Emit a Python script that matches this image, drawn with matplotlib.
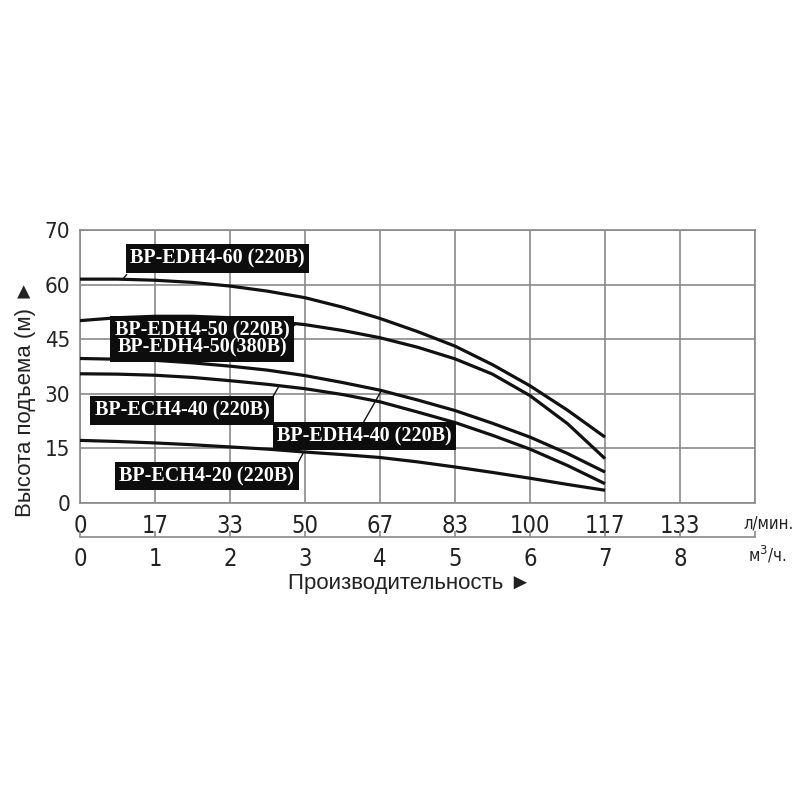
import matplotlib
matplotlib.use("Agg")
import matplotlib.pyplot as plt
from matplotlib import font_manager as fm

# ---- data (flow in m3/h, head in m) ----
flow = [0, 0.5, 1, 1.5, 2, 2.5, 3, 3.5, 4, 4.5, 5, 5.5, 6, 6.5, 7]
head_edh4_60 = [61.5, 61.5, 61.2, 60.6, 59.6, 58.2, 56.4, 53.8, 50.7, 47.1, 43.1, 38.0, 32.2, 25.5, 18.1]
head_edh4_50 = [50.1, 50.9, 51.3, 51.3, 50.9, 50.1, 49.0, 47.4, 45.4, 42.8, 39.6, 35.4, 29.5, 21.8, 12.2]
head_edh4_40 = [39.7, 39.5, 39.2, 38.5, 37.6, 36.5, 35.0, 33.1, 31.0, 28.3, 25.4, 21.9, 18.1, 13.6, 8.5]
head_ech4_40 = [35.5, 35.4, 35.1, 34.5, 33.6, 32.6, 31.4, 29.8, 27.8, 25.0, 22.1, 18.6, 14.8, 10.3, 5.3]
head_ech4_20 = [17.2, 16.9, 16.5, 16.0, 15.4, 14.8, 14.0, 13.3, 12.5, 11.3, 9.9, 8.4, 6.8, 5.1, 3.5]

series = [head_edh4_60, head_edh4_50, head_edh4_40, head_ech4_40, head_ech4_20]

y_ticks = [0, 15, 30, 45, 60, 75]
y_ticklabels = ["0", "15", "30", "45", "60", "70"]
x_ticks = [0, 1, 2, 3, 4, 5, 6, 7, 8]
lmin_labels = ["0", "17", "33", "50", "67", "83", "100", "117", "133"]
m3h_labels = ["0", "1", "2", "3", "4", "5", "6", "7", "8"]

labels = ["BP-EDH4-60 (220В)", "BP-EDH4-50 (220В)\nBP-EDH4-50(380В)", "BP-ECH4-40 (220В)",
          "BP-EDH4-40 (220В)", "BP-ECH4-20 (220В)"]
label_pos = [(1.83, 67.1), (1.63, 45.1), (1.36, 25.4), (3.79, 18.4), (1.69, 7.4)]
pointer = [((0.62, 62.7), (0.56, 61.3)), ((2.84, 48.5), (2.89, 49.3)), ((2.58, 29.5), (2.65, 32.0)),
           ((3.78, 22.2), (4.02, 30.9)), ((2.90, 10.8), (2.98, 13.9))]

num_font_x = fm.FontProperties(family="DejaVu Sans", stretch="condensed", size=17)
num_font_y = fm.FontProperties(family="DejaVu Sans", stretch="condensed", size=16)

fig = plt.figure(figsize=(8, 8), dpi=100)
W, H = 800, 800
L, R, T, B = 80, 755, 230, 503
ax = fig.add_axes([L / W, 1 - B / H, (R - L) / W, (B - T) / H])
ax.set_xlim(0, 9)
ax.set_ylim(0, 75)
grid_c = "#8a8a8a"
txt_c = "#222222"
for s in ax.spines.values():
    s.set_color(grid_c)
    s.set_linewidth(1.2)
ax.set_xticks(x_ticks + [9])
ax.set_yticks(y_ticks)
ax.grid(True, color=grid_c, linewidth=1.2)
ax.set_axisbelow(True)
ax.set_yticklabels(y_ticklabels, fontproperties=num_font_y, color=txt_c)
ax.set_xticklabels(lmin_labels + [""], fontproperties=num_font_x, color=txt_c)
ax.tick_params(axis="both", length=0)
ax.tick_params(axis="x", pad=8)
ax.tick_params(axis="y", pad=7)

for h in series:
    ax.plot(flow, h, color="#111111", lw=2.3, solid_capstyle="butt", solid_joinstyle="round", zorder=3)

for (p0, p1) in pointer:
    ax.plot([p0[0], p1[0]], [p0[1], p1[1]], color="#111111", lw=1.0, zorder=3)

for txt, (x, y) in zip(labels, label_pos):
    ax.text(x, y, txt, ha="center", va="center", color="white", fontsize=14.5,
            family="Liberation Serif", fontweight="bold", linespacing=0.82, zorder=5,
            bbox=dict(boxstyle="square,pad=0.22", fc="#0d0d0d", ec="none"))

# second x axis (m3/h)
ax2 = fig.add_axes([L / W, 1 - 537 / H, (R - L) / W, 0.0001])
ax2.set_xlim(0, 9)
for k in ["top", "left", "right"]:
    ax2.spines[k].set_visible(False)
ax2.spines["bottom"].set_color(grid_c)
ax2.spines["bottom"].set_linewidth(1.2)
ax2.set_yticks([])
ax2.set_xticks(x_ticks + [9])
ax2.set_xticklabels(m3h_labels + [""], fontproperties=num_font_x, color=txt_c)
ax2.tick_params(axis="x", direction="in", length=4, color=grid_c, width=1.2, pad=7)

unit_font = fm.FontProperties(family="DejaVu Sans", stretch="condensed", size=12)
fig.text(769 / W, 1 - 524 / H, "л/мин.", ha="center", va="center", fontproperties=unit_font, color=txt_c)
fig.text(767 / W, 1 - 555 / H, "м$^{3}$/ч.", ha="center", va="center", fontproperties=unit_font, color=txt_c)
fig.text(410 / W, 1 - 584 / H, "Производительность ►", ha="center", va="center", fontsize=16,
         family="Liberation Sans", color=txt_c)
fig.text(26 / W, 1 - 398 / H, "Высота подъема (м) ►", ha="center", va="center", fontsize=16,
         family="Liberation Sans", color=txt_c, rotation=90)

fig.savefig("out.png", dpi=100, facecolor="white")
